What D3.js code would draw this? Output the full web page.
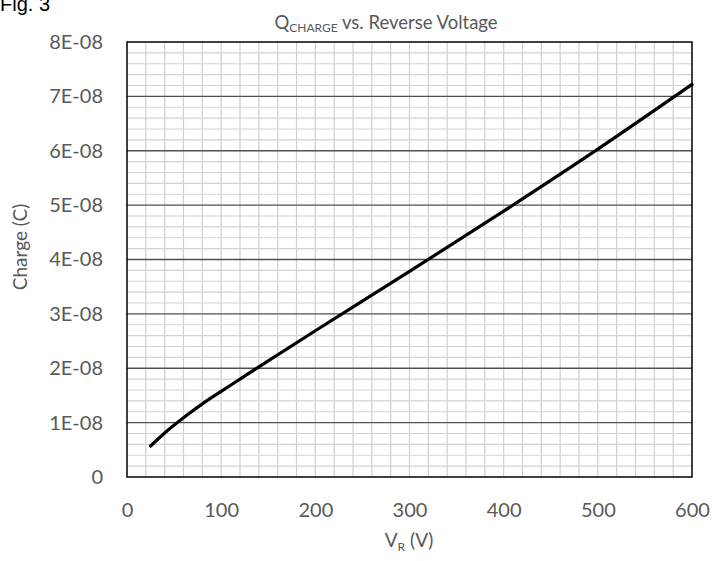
<!DOCTYPE html>
<html>
<head>
<meta charset="utf-8">
<script src="https://cdn.jsdelivr.net/npm/d3@7"></script>
<style>
  body { margin: 0; background: #fff; }
  text { font-family: Lato, "Open Sans", sans-serif; fill: #595959; }
</style>
</head>
<body>
<svg id="chart" width="712" height="561"></svg>
<script>
// values
var voltage = [25, 40, 60, 80, 100, 120, 140, 200, 300, 400, 500, 600];
var charge = [5.7e-9, 8.1e-9, 1.09e-8, 1.345e-8, 1.575e-8, 1.8e-8, 2.025e-8, 2.69e-8, 3.78e-8, 4.89e-8, 6.03e-8, 7.22e-8];
var xTicks = [0, 100, 200, 300, 400, 500, 600];
var yTicks = [0, 1e-8, 2e-8, 3e-8, 4e-8, 5e-8, 6e-8, 7e-8, 8e-8];
var yTickLabels = ["0", "1E-08", "2E-08", "3E-08", "4E-08", "5E-08", "6E-08", "7E-08", "8E-08"];

var svg = d3.select("#chart");
var plotLeft = 127, plotRight = 692, plotTop = 42, plotBottom = 477;

var x = d3.scaleLinear().domain([0, 600]).range([plotLeft, plotRight]);
var y = d3.scaleLinear().domain([0, 8e-8]).range([plotBottom, plotTop]);

// minor grid
var xMinor = d3.range(20, 600, 20);
var yMinor = d3.range(1, 40).filter(function (i) { return i % 5 != 0; }).map(function (i) { return i * 2e-9; });

svg.append("g").selectAll("line").data(xMinor).enter().append("line")
  .attr("x1", function (d) { return x(d); }).attr("x2", function (d) { return x(d); })
  .attr("y1", plotTop).attr("y2", plotBottom)
  .attr("stroke", "#cfcfcf").attr("stroke-width", 1.2);

svg.append("g").selectAll("line").data(yMinor).enter().append("line")
  .attr("y1", function (d) { return y(d); }).attr("y2", function (d) { return y(d); })
  .attr("x1", plotLeft).attr("x2", plotRight)
  .attr("stroke", "#d4d4d4").attr("stroke-width", 1.2);

// major horizontal grid
svg.append("g").selectAll("line").data(yTicks.slice(1, -1)).enter().append("line")
  .attr("y1", function (d) { return y(d); }).attr("y2", function (d) { return y(d); })
  .attr("x1", plotLeft).attr("x2", plotRight)
  .attr("stroke", "#505050").attr("stroke-width", 1.3);

// border
svg.append("rect")
  .attr("x", plotLeft).attr("y", plotTop)
  .attr("width", plotRight - plotLeft).attr("height", plotBottom - plotTop)
  .attr("fill", "none").attr("stroke", "#000").attr("stroke-width", 1.5);

// axes (text only)
var xAxis = d3.axisBottom(x).tickValues(xTicks).tickSize(0).tickPadding(26);
var gx = svg.append("g").attr("transform", "translate(0," + plotBottom + ")").call(xAxis);
gx.select(".domain").remove();
gx.selectAll("text").style("font-size", "20px").style("font-family", "Lato").attr("fill", "#595959");

var yAxis = d3.axisLeft(y).tickValues(yTicks).tickSize(0).tickPadding(24)
  .tickFormat(function (d, i) { return yTickLabels[i]; });
var gy = svg.append("g").attr("transform", "translate(" + plotLeft + ",0)").call(yAxis);
gy.select(".domain").remove();
gy.selectAll("text").style("font-size", "20px").style("font-family", "Lato").attr("fill", "#595959");

// curve
var line = d3.line()
  .x(function (d, i) { return x(voltage[i]); })
  .y(function (d) { return y(d); })
  .curve(d3.curveMonotoneX);

svg.append("path").datum(charge)
  .attr("d", line)
  .attr("fill", "none").attr("stroke", "#000").attr("stroke-width", 3.2)
  .attr("stroke-linecap", "round");

// titles
var title = svg.append("text").attr("x", 386).attr("y", 29).attr("text-anchor", "middle")
  .style("font-size", "18.5px");
title.append("tspan").text("Q");
title.append("tspan").attr("dy", 3).style("font-size", "12px").text("CHARGE");
title.append("tspan").attr("dy", -3).text(" vs. Reverse Voltage");

var xl = svg.append("text").attr("x", 409).attr("y", 547).attr("text-anchor", "middle")
  .style("font-size", "19px");
xl.append("tspan").text("V");
xl.append("tspan").attr("dy", 4).style("font-size", "12px").text("R");
xl.append("tspan").attr("dy", -4).text(" (V)");

svg.append("text").attr("transform", "translate(27,247) rotate(-90)")
  .attr("text-anchor", "middle").style("font-size", "19px").text("Charge (C)");

svg.append("text").attr("x", 0).attr("y", 11)
  .style("font-family", "'Liberation Sans', Arial, sans-serif").style("font-size", "20px")
  .style("fill", "#000").text("Fig. 3");
</script>
</body>
</html>
